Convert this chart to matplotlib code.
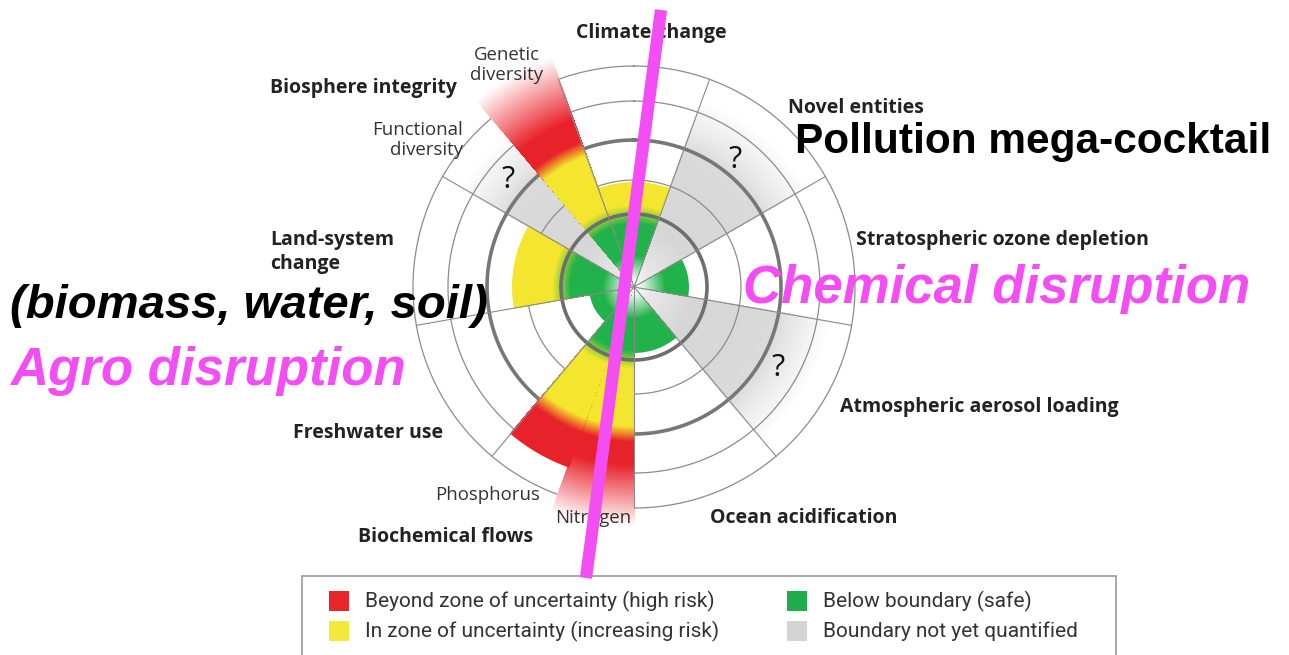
import numpy as np
import matplotlib.pyplot as plt
from matplotlib.colors import to_rgb
from matplotlib.lines import Line2D
from matplotlib.patches import Rectangle

W, H = 1289, 655

# sectors clockwise from the top; start = bearing of the left edge (deg)
sectors = ['Climate change', 'Novel entities', 'Stratospheric ozone depletion',
           'Atmospheric aerosol loading', 'Ocean acidification', 'Nitrogen',
           'Phosphorus', 'Freshwater use', 'Land-system change',
           'Functional diversity', 'Genetic diversity']
sector_start = [-20, 20, 60, 100, 140, 180, 200, 220, 260, 300, 320]
sector_width = [40, 40, 40, 40, 40, 20, 20, 40, 40, 20, 20]
status = ['yellow', 'grey', 'green', 'grey', 'green', 'red',
          'red', 'green', 'yellow', 'grey', 'red']
# radial extent of each wedge (chart units, boundary ring = 73)
extent = [105, 200, 55, 200, 66, 240, 192, 45, 122, 200, 245]

rings = [73, 107, 147, 186, 221]
spokes = [-60, -20, 20, 60, 100, 140, 180, 220, 260]

legend_labels = ['Beyond zone of uncertainty (high risk)',
                 'In zone of uncertainty (increasing risk)',
                 'Below boundary (safe)', 'Boundary not yet quantified']
legend_colors = ['#e8262a', '#f2e93a', '#1fae4b', '#d4d4d4']

GREEN, YELLOW, RED, ORANGE = '#22b24c', '#f4e52e', '#e8222a', '#ef8a2a'
RMAX = 250
STEP = 1.0


def wedge_shades(kind, v):
    """outer radius and opaque colour of each concentric slice (outermost first)"""
    r = np.arange(STEP, v + STEP, STEP)[::-1]
    if kind == 'grey':
        stops = [(0, 'white'), (18, '#e8e8e8'), (60, '#d6d6d6'),
                 (145, '#dadada'), (160, '#e6e6e6'), (v, 'white')]
    else:
        stops = [(0, 'white'), (6, 'white'), (32, GREEN)]
        if kind in ('yellow', 'red'):
            stops += [(64, GREEN), (82, YELLOW)]
        if kind == 'red':
            stops += [(140, YELLOW), (147, ORANGE), (155, RED)]
        if v > rings[-1]:
            stops += [(178, RED), (v, 'white')]
    xs = [s[0] for s in stops]
    cs = np.array([to_rgb(s[1]) for s in stops])
    rgb = np.column_stack([np.interp(r, xs, cs[:, k]) for k in range(3)])
    return r, rgb


fig = plt.figure(figsize=(W / 100, H / 100), dpi=100)
ax = fig.add_axes([384 / W, 118 / H, 500 / W, 500 / H], projection='polar')
ax.set_theta_zero_location('N')
ax.set_theta_direction(-1)
ax.set_ylim(0, RMAX)
ax.set_axis_off()

for s, w, kind, v in zip(sector_start, sector_width, status, extent):
    r, rgb = wedge_shades(kind, v)
    # a hair wider so neighbouring half-sectors leave no seam
    ax.bar(np.full(len(r), np.deg2rad(s + w / 2)), r, width=np.deg2rad(w + 0.4),
           bottom=0, color=rgb, edgecolor='none', linewidth=0,
           zorder=1 if kind == 'grey' else 2)

circ = np.linspace(0, 2 * np.pi, 721)
for r in rings:
    if r == 73:
        ax.plot(circ, np.full_like(circ, r), color='#6e6e6e', lw=2.6, zorder=3)
    elif r == 147:
        ax.plot(circ, np.full_like(circ, r), color='#777777', lw=2.6, zorder=1.5)
    else:
        ax.plot(circ, np.full_like(circ, r), color='#8c8c8c', lw=0.9, zorder=1.5)
for b in spokes:
    ax.plot([np.deg2rad(b)] * 2, [0, rings[-1]], color='#8a8a8a', lw=0.8, zorder=4)


def ftext(x, y, s, **kw):
    fig.text(x / W, 1 - y / H, s, **kw)


bold = dict(family='Open Sans', fontweight='bold', fontsize=14, color='#222222', va='baseline')
light = dict(family='Open Sans', fontsize=13.4, color='#333333', va='baseline')

ftext(576, 38, 'Climate change', **bold)
ftext(270, 93, 'Biosphere integrity', **bold)
ftext(788, 113, 'Novel entities', **bold)
ftext(856, 245, 'Stratospheric ozone depletion', **bold)
ftext(270, 245, 'Land-system', **bold)
ftext(270, 269, 'change', **bold)
ftext(840, 412, 'Atmospheric aerosol loading', **bold)
ftext(293, 438, 'Freshwater use', **bold)
ftext(710, 523, 'Ocean acidification', **bold)
ftext(358, 542, 'Biochemical flows', **bold)

ftext(507, 60, 'Genetic', ha='center', **light)
ftext(507, 80, 'diversity', ha='center', **light)
ftext(463, 135, 'Functional', ha='right', **light)
ftext(463, 155, 'diversity', ha='right', **light)
ftext(435, 500, 'Phosphorus', **light)
ftext(555, 523, 'Nitrogen', **light)

for qx, qy in [(508, 180), (735, 160), (778, 368)]:
    ftext(qx, qy, '?', ha='center', va='center', family='Open Sans',
          fontsize=22, color='#111111')

# legend box
fig.add_artist(Rectangle((302 / W, -0.02), (1116 - 302) / W, 0.02 + 1 - 576 / H,
                         transform=fig.transFigure, fill=False,
                         edgecolor='#9a9a9a', lw=1.2))
leg_pos = [(339, 601), (339, 631), (797, 601), (797, 631)]
for (lx, ly), lab, col in zip(leg_pos, legend_labels, legend_colors):
    fig.add_artist(Rectangle(((lx - 10) / W, 1 - (ly + 10) / H), 20 / W, 20 / H,
                             transform=fig.transFigure, facecolor=col,
                             edgecolor='none'))
    ftext(lx + 26, ly, lab, family='Roboto', fontsize=15, color='#333333', va='center')

# overlay annotations
PINK = '#f34ef3'
ftext(795, 153, 'Pollution mega-cocktail', family='Liberation Sans',
      fontweight='bold', fontsize=30.5, color='black', va='baseline')
ftext(743, 303, 'Chemical disruption', family='Liberation Sans',
      fontweight='bold', style='italic', fontsize=38, color=PINK, va='baseline')
ftext(10, 318, '(biomass, water, soil)', family='Liberation Sans',
      fontweight='bold', style='italic', fontsize=34, color='black', va='baseline')
ftext(10, 385, 'Agro disruption', family='Liberation Sans',
      fontweight='bold', style='italic', fontsize=38, color=PINK, va='baseline')

fig.add_artist(Line2D([661 / W, 586 / W], [1 - 10 / H, 1 - 578 / H],
                      transform=fig.transFigure, color=PINK, lw=8.8,
                      solid_capstyle='butt', zorder=10))

fig.savefig('out.png', dpi=100)
